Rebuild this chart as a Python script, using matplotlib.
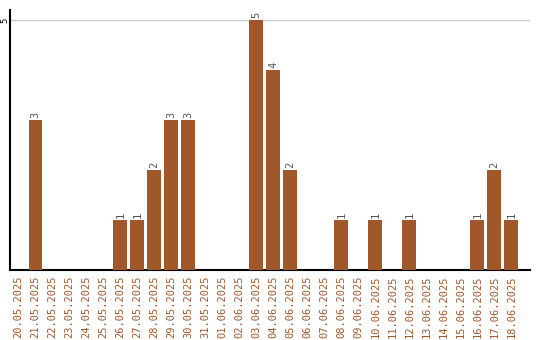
import numpy as np
import matplotlib.pyplot as plt

dates = ['20.05.2025', '21.05.2025', '22.05.2025', '23.05.2025', '24.05.2025',
         '25.05.2025', '26.05.2025', '27.05.2025', '28.05.2025', '29.05.2025',
         '30.05.2025', '31.05.2025', '01.06.2025', '02.06.2025', '03.06.2025',
         '04.06.2025', '05.06.2025', '06.06.2025', '07.06.2025', '08.06.2025',
         '09.06.2025', '10.06.2025', '11.06.2025', '12.06.2025', '13.06.2025',
         '14.06.2025', '15.06.2025', '16.06.2025', '17.06.2025', '18.06.2025']
counts = [0, 3, 0, 0, 0, 0, 1, 1, 2, 3, 3, 0, 0, 0, 5,
          4, 2, 0, 0, 1, 0, 1, 0, 1, 0, 0, 0, 1, 2, 1]

brown = '#a0582b'
fig = plt.figure(figsize=(5.4, 3.4), dpi=100)
ax = fig.add_axes([10 / 540, 70 / 340, 520 / 540, 260 / 340])

x = np.arange(len(dates))
ax.bar(x, counts, width=0.82, color=brown, zorder=3)
for xi, c in zip(x, counts):
    if c > 0:
        ax.text(xi, c + 0.04, str(c), rotation=90, ha='center', va='bottom',
                fontsize=7.5, color='#555555', family='DejaVu Sans Mono')

ax.set_xlim(-0.5, 30.1)
ax.set_ylim(0, 5.2)
ax.set_yticks([5])
ax.set_yticklabels(['5'], rotation=90, va='center', ha='center', fontsize=6.5,
                   family='DejaVu Sans Mono')
ax.tick_params(axis='y', length=0, pad=4)
ax.set_xticks(x)
ax.set_xticklabels(dates, rotation=90, fontsize=7.5, color=brown,
                   family='DejaVu Sans Mono')
ax.tick_params(axis='x', length=0, pad=4)
ax.grid(axis='y', color='#cccccc', linewidth=1, zorder=0)
ax.spines['top'].set_visible(False)
ax.spines['right'].set_visible(False)
ax.spines['left'].set_linewidth(1.5)
ax.spines['bottom'].set_linewidth(1.5)

plt.savefig('out.png')
